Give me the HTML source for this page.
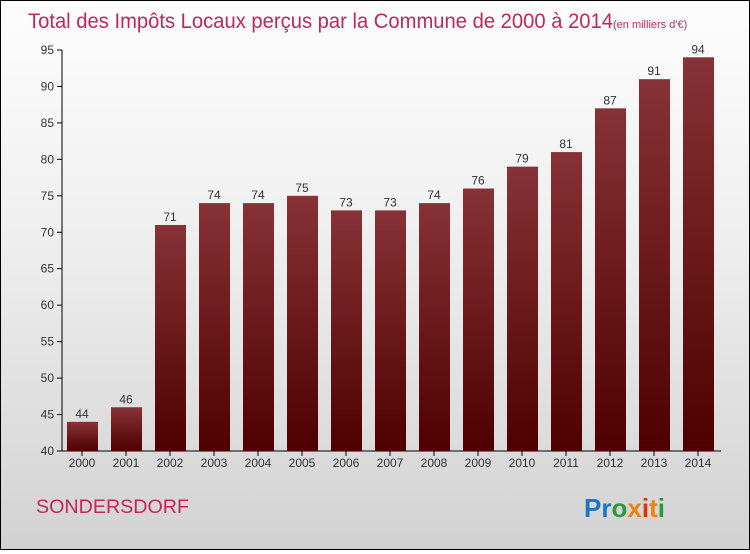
<!DOCTYPE html>
<html><head><meta charset="utf-8"><style>
body{margin:0;width:750px;height:550px;overflow:hidden;font-family:"Liberation Sans",sans-serif}
#wrap{position:absolute;left:0;top:0;width:748px;height:548px;border:1px solid #000;background:linear-gradient(#fdfdfd 0%,#f0f0f0 40%,#d2d2d2 100%)}
</style></head><body>
<div id="wrap">
<svg id="c" width="748" height="548">
<defs><linearGradient id="bg" x1="0" y1="0" x2="0" y2="1"><stop offset="0" stop-color="#873236"/><stop offset="1" stop-color="#4e0000"/></linearGradient></defs>
<text x="27" y="27" font-size="21" fill="#c0285a"><tspan textLength="585" lengthAdjust="spacingAndGlyphs">Total des Impôts Locaux perçus par la Commune de 2000 à 2014</tspan><tspan font-size="11">(en milliers d'€)</tspan></text>
<text x="35" y="512" font-size="19" fill="#c0285a" textLength="153" lengthAdjust="spacingAndGlyphs">SONDERSDORF</text>
<text x="583" y="516" font-size="26" font-weight="bold"><tspan fill="#1a74c8">Pr</tspan><tspan fill="#2a9a3a">o</tspan><tspan fill="#f08010">x</tspan><tspan fill="#e03010">i</tspan><tspan fill="#f08010">t</tspan><tspan fill="#2a9a3a">i</tspan></text>
</svg></div>
<script>
const years=["2000","2001","2002","2003","2004","2005","2006","2007","2008","2009","2010","2011","2012","2013","2014"];
const values=[44,46,71,74,74,75,73,73,74,76,79,81,87,91,94];
const ticks=[40,45,50,55,60,65,70,75,80,85,90,95];
const svg=document.getElementById('c');const NS='http://www.w3.org/2000/svg';
function y(v){return 450-(v-40)*(401/55);}
function x(i){return 81+i*44;}
function el(t,a){const e=document.createElementNS(NS,t);for(const k in a)e.setAttribute(k,a[k]);svg.appendChild(e);return e;}
let ax=el('line',{x1:61,y1:y(95),x2:61,y2:450,stroke:'#000'});


let bx=el('line',{x1:61,y1:450,x2:720,y2:450,stroke:'#000'});


ticks.forEach(t=>{
 let l=el('line',{x1:56,y1:y(t),x2:61,y2:y(t),stroke:'#000'});
 
 
 let tx=el('text',{x:53,y:y(t)+4,'font-size':12,fill:'#333','text-anchor':'end'});tx.textContent=t;
 
 
});
years.forEach((yr,i)=>{
 let v=values[i];
 let r=el('rect',{x:x(i)-15,y:y(v),width:31,height:450-y(v),fill:'url(#bg)'});
 
 
 let l=el('text',{x:x(i),y:y(v)-4,'font-size':12,fill:'#333','text-anchor':'middle'});l.textContent=v;
 
 
 let k=el('line',{x1:x(i),y1:450,x2:x(i),y2:455,stroke:'#000'});
 
 
 let xl=el('text',{x:x(i),y:466,'font-size':12,fill:'#333','text-anchor':'middle'});xl.textContent=yr;
 
 
});
</script>
</body></html>
